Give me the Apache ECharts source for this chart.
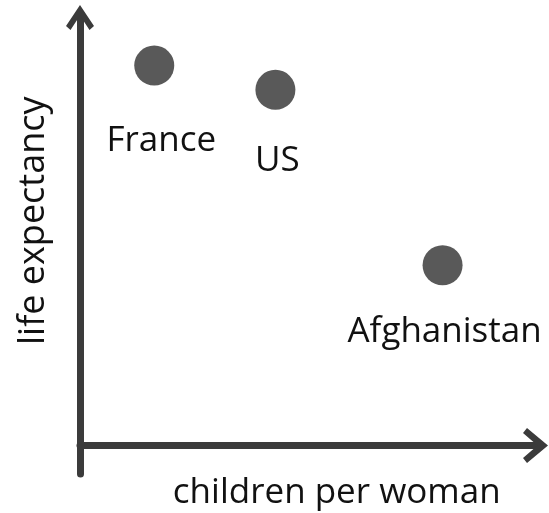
<!DOCTYPE html>
<html>
<head>
<meta charset="utf-8">
<script src="https://cdn.jsdelivr.net/npm/echarts@6/dist/echarts.min.js"></script>
<style>
  html, body { margin: 0; padding: 0; background: #fff; }
  #chart { width: 549px; height: 513px; }
</style>
</head>
<body>
<div id="chart"></div>
<script>
// Schematic scatter: three countries on fertility vs. life expectancy
const countries = ['France', 'US', 'Afghanistan'];
const childrenPerWoman = [16.3, 42.9, 79.6];
const lifeExpectancy = [79.9, 74.8, 37.9];
const xAxisTitle = 'children per woman';
const yAxisTitle = 'life expectancy';

// label placement relative to each dot centre
const labelShift = [[7, 76], [2, 71], [2, 67]];

const axisColor = '#3b3b3b';
const dotColor = '#595959';
const textColor = '#111111';
const font = '"Open Sans", "Noto Sans", sans-serif';

// open chevron heads for the axis ends (drawn pointing up, rotated by the axis)
const arrowX = 'path://M17.5 0 L35 21 L30 25 L17.5 10.5 L5 25 L0 21 Z';
const arrowY = 'path://M14 0 L28 21 L23.5 25 L14 10.5 L4.5 25 L0 21 Z';

const points = countries.map((name, i) => ({
  name: name,
  value: [childrenPerWoman[i], lifeExpectancy[i]],
  label: { offset: labelShift[i] }
}));

const chart = echarts.init(document.getElementById('chart'), null, { renderer: 'canvas' });
chart.setOption({
  animation: false,
  backgroundColor: '#ffffff',
  grid: {
    left: 80, right: 13.5, top: 17.5, bottom: 39,
    containLabel: false,
    outerBoundsMode: 'none'
  },
  xAxis: {
    type: 'value',
    min: 0,
    max: 100,
    name: xAxisTitle,
    nameLocation: 'middle',
    nameGap: 2,
    nameTextStyle: { fontFamily: font, fontSize: 35, color: textColor, padding: [0, 0, 0, 58] },
    axisLine: {
      show: true,
      onZero: true,
      symbol: ['none', arrowX],
      symbolSize: [35, 25],
      lineStyle: { color: axisColor, width: 7 }
    },
    axisTick: { show: false },
    axisLabel: { show: false },
    splitLine: { show: false }
  },
  yAxis: {
    type: 'value',
    min: -6,
    max: 90,
    name: yAxisTitle,
    nameLocation: 'middle',
    nameRotate: 90,
    nameGap: 28,
    nameTextStyle: { fontFamily: font, fontSize: 36, color: textColor, padding: [0, 0, 0, 50] },
    axisLine: {
      show: true,
      onZero: false,
      symbol: ['none', arrowY],
      symbolSize: [28, 25],
      lineStyle: { color: axisColor, width: 7 }
    },
    axisTick: { show: false },
    axisLabel: { show: false },
    splitLine: { show: false }
  },
  series: [{
    type: 'scatter',
    symbol: 'circle',
    symbolSize: 40,
    itemStyle: { color: dotColor, opacity: 1 },
    label: {
      show: true,
      position: 'inside',
      formatter: '{b}',
      fontFamily: font,
      fontSize: 35,
      color: textColor,
      opacity: 1
    },
    data: points
  }]
});
</script>
</body>
</html>
